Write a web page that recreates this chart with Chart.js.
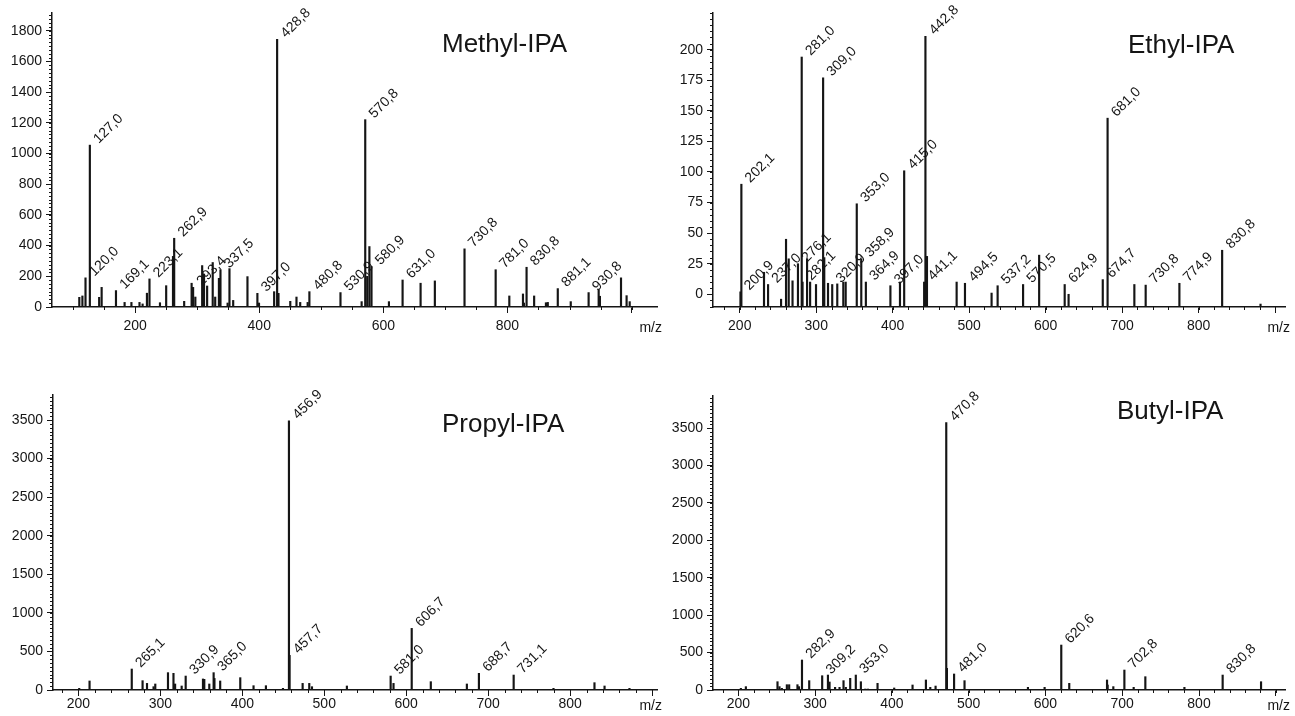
<!DOCTYPE html>
<html>
<head>
<meta charset="utf-8">
<script src="https://cdn.jsdelivr.net/npm/chart.js@4.4.0/dist/chart.umd.min.js"></script>
<style>
    body { margin: 0; background: #fff; width: 1295px; height: 716px; overflow: hidden; position: relative; }
    .panel { position: absolute; }
</style>
</head>
<body>
<div class="panel" style="left:0;top:0;width:668px;height:345px"><canvas id="methylChart"></canvas></div>
<div class="panel" style="left:662px;top:0;width:633px;height:345px"><canvas id="ethylChart"></canvas></div>
<div class="panel" style="left:0;top:360px;width:668px;height:356px"><canvas id="propylChart"></canvas></div>
<div class="panel" style="left:662px;top:360px;width:633px;height:356px"><canvas id="butylChart"></canvas></div>
<script>
// Methyl-IPA
const methylMz = [110, 115, 120.0, 127.0, 142, 146, 169.1, 183, 194, 207, 212, 219, 223.1, 240, 250, 261, 262.9, 279, 291, 293.4, 297, 308, 311, 316, 325, 329, 335, 337.5, 349, 352, 358, 381, 397.0, 399.6, 424, 428.8, 431, 450, 460, 466, 478, 480.8, 530.9, 565, 570.8, 574, 577.5, 580.9, 609, 631.0, 660, 683, 730.8, 781.0, 803, 825, 826.5, 830.8, 843, 862, 865, 881.1, 902, 930.8, 947, 949, 983, 992, 997];
const methylIntensity = [63, 72, 190, 1055, 63, 128, 107, 30, 30, 30, 20, 90, 183, 28, 139, 330, 448, 37, 155, 128, 65, 270, 215, 137, 290, 65, 187, 243, 26, 250, 43, 198, 89, 26, 100, 1745, 89, 37, 65, 30, 30, 100, 94, 35, 1221, 200, 394, 264, 35, 176, 155, 170, 379, 243, 72, 85, 26, 259, 72, 28, 30, 120, 35, 94, 113, 70, 190, 74, 35];
const methylLabeled = [120.0, 127.0, 169.1, 223.1, 262.9, 293.4, 337.5, 397.0, 428.8, 480.8, 530.9, 570.8, 580.9, 631.0, 730.8, 781.0, 830.8, 881.1, 930.8];
const methylYTicks = [0, 200, 400, 600, 800, 1000, 1200, 1400, 1600, 1800];
const methylXTicks = [200, 400, 600, 800, 1000];
const methylXLabels = [200, 400, 600, 800];

// Ethyl-IPA
const ethylMz = [200.9, 202.1, 231.7, 237.0, 254, 260.5, 264, 269, 276.1, 281.0, 282.1, 288, 292, 299.7, 309.0, 310.5, 315.4, 320.9, 327.5, 335.4, 338.5, 353.0, 358.9, 364.9, 397.0, 409.5, 415.0, 441.1, 442.8, 444.8, 483.6, 494.5, 529.3, 537.2, 570.5, 591.5, 624.9, 630, 674.7, 681.0, 716, 730.8, 774.9, 830.8, 881];
const ethylIntensity = [2, 90, 18, 8, -4, 45, 29, 11, 25, 194, 10, 29, 10, 8, 177, 30, 9, 8, 8.5, 10, 10, 74, 29, 10, 7, 10, 101, 10, 211, 31, 10, 9, 1, 7, 8, 32, 8, 0, 12, 144, 8, 7.5, 9, 36, -8];
const ethylLabeled = [200.9, 202.1, 237.0, 276.1, 281.0, 282.1, 309.0, 320.9, 353.0, 358.9, 364.9, 397.0, 415.0, 441.1, 442.8, 494.5, 537.2, 570.5, 624.9, 674.7, 681.0, 730.8, 774.9, 830.8];
const ethylYTicks = [0, 25, 50, 75, 100, 125, 150, 175, 200];
const ethylXTicks = [200, 300, 400, 500, 600, 700, 800, 900];
const ethylXLabels = [200, 300, 400, 500, 600, 700, 800];

// Propyl-IPA
const propylMz = [201, 213.6, 265.1, 278.3, 283.7, 291.7, 293.8, 309.3, 316, 318, 326, 330.9, 352, 353.6, 359.7, 365.0, 366, 373, 397.5, 413.7, 428.8, 449.6, 456.9, 457.7, 473.6, 481.7, 485, 527.6, 581.0, 584.5, 606.7, 630, 674, 688.7, 731.1, 779.7, 829.7, 842, 872.4];
const propylIntensity = [22, 117, 272, 121, 86, 43, 78, 225, 216, 78, 52, 181, 143, 138, 78, 225, 150, 117, 160, 56, 56, 22, 3490, 449, 86, 86, 43, 52, 181, 86, 799, 108, 78, 216, 194, 22, 95, 52, 22];
const propylLabeled = [265.1, 330.9, 365.0, 456.9, 457.7, 581.0, 606.7, 688.7, 731.1];
const propylYTicks = [0, 500, 1000, 1500, 2000, 2500, 3000, 3500];
const propylXTicks = [200, 300, 400, 500, 600, 700, 800, 900];
const propylXLabels = [200, 300, 400, 500, 600, 700, 800];

// Butyl-IPA
const butylMz = [203.3, 209.8, 251, 253.6, 256.7, 263.2, 266.2, 277, 279, 282.9, 292.3, 309.2, 316.7, 318.8, 326, 331.8, 337, 340, 345.7, 353.0, 359.6, 365.3, 368.8, 381.3, 403, 426.9, 444.3, 450, 456.9, 470.8, 471.7, 481.0, 494.6, 508.6, 513, 577.2, 598.9, 620.6, 631, 680.2, 681, 688.4, 702.8, 714.9, 730.1, 750.5, 781, 830.8, 880.8];
const butylIntensity = [22, 45, 111, 45, 22, 71, 71, 71, 45, 401, 125, 191, 200, 107, 36, 36, 125, 36, 156, 200, 111, 13, 13, 89, 27, 67, 134, 36, 53, 3574, 290, 214, 125, 9, 9, 36, 36, 601, 89, 134, 67, 45, 267, 36, 178, 9, 36, 200, 111];
const butylLabeled = [282.9, 309.2, 353.0, 470.8, 481.0, 620.6, 702.8, 830.8];
const butylYTicks = [0, 500, 1000, 1500, 2000, 2500, 3000, 3500];
const butylXTicks = [200, 300, 400, 500, 600, 700, 800, 900];
const butylXLabels = [200, 300, 400, 500, 600, 700, 800];

const FONT = '"Liberation Sans", Arial, Helvetica, sans-serif';
const INK = '#151515';
Chart.defaults.font.family = FONT;
Chart.defaults.color = INK;

// Panel-Definitionen (Layout getrennt von den Daten)
const panels = [
    {
        id: 'methylChart', title: 'Methyl-IPA',
        mz: methylMz, intensity: methylIntensity, labeled: methylLabeled,
        yTicks: methylYTicks, xTicks: methylXTicks, xLabels: methylXLabels,
        xRange: [66, 1041], yRange: [0, 1916], xMinor: 50, yMinor: 25,
        padding: { top: 13, right: 11, left: 0, bottom: 0 }, yAxisWidth: 52, xAxisHeight: 38, xLabelPad: 5,
        titleDx: 390, titleDy: 39, mzDy: 25
    },
    {
        id: 'ethylChart', title: 'Ethyl-IPA',
        mz: ethylMz, intensity: ethylIntensity, labeled: ethylLabeled,
        yTicks: ethylYTicks, xTicks: ethylXTicks, xLabels: ethylXLabels,
        xRange: [165, 913], yRange: [-10.4, 230], xMinor: 20, yMinor: 5,
        padding: { top: 13, right: 10, left: 0, bottom: 0 }, yAxisWidth: 51, xAxisHeight: 38, xLabelPad: 5,
        titleDx: 415, titleDy: 40, mzDy: 25
    },
    {
        id: 'propylChart', title: 'Propyl-IPA',
        mz: propylMz, intensity: propylIntensity, labeled: propylLabeled,
        yTicks: propylYTicks, xTicks: propylXTicks, xLabels: propylXLabels,
        xRange: [169, 906], yRange: [0, 3825], xMinor: 20, yMinor: 50,
        padding: { top: 35, right: 11, left: 0, bottom: 0 }, yAxisWidth: 53, xAxisHeight: 26, xLabelPad: 0,
        titleDx: 389, titleDy: 37, mzDy: 20
    },
    {
        id: 'butylChart', title: 'Butyl-IPA',
        mz: butylMz, intensity: butylIntensity, labeled: butylLabeled,
        yTicks: butylYTicks, xTicks: butylXTicks, xLabels: butylXLabels,
        xRange: [167, 912], yRange: [0, 3930], xMinor: 20, yMinor: 50,
        padding: { top: 36, right: 10, left: 0, bottom: 0 }, yAxisWidth: 51, xAxisHeight: 26, xLabelPad: 0,
        titleDx: 404, titleDy: 23, mzDy: 20
    }
];

// Nebenticks, Peak-Beschriftungen, Titel und m/z
function makeDecor(p) {
    return {
        id: 'spectrumDecor',
        afterDatasetsDraw(chart) {
            const { ctx, chartArea } = chart;
            const x = chart.scales.x;
            const y = chart.scales.y;
            ctx.save();
            ctx.strokeStyle = INK;
            ctx.lineWidth = 1;
            ctx.beginPath();
            for (let v = Math.ceil(y.min / p.yMinor) * p.yMinor; v <= y.max; v += p.yMinor) {
                const py = Math.round(y.getPixelForValue(v)) + 0.5;
                ctx.moveTo(chartArea.left - 3, py);
                ctx.lineTo(chartArea.left, py);
            }
            for (let v = Math.ceil(x.min / p.xMinor) * p.xMinor; v <= x.max; v += p.xMinor) {
                const px = Math.round(x.getPixelForValue(v)) + 0.5;
                ctx.moveTo(px, chartArea.bottom);
                ctx.lineTo(px, chartArea.bottom + 3);
            }
            ctx.stroke();

            ctx.fillStyle = INK;
            ctx.font = '14px ' + FONT;
            ctx.textAlign = 'left';
            ctx.textBaseline = 'alphabetic';
            p.labeled.forEach(m => {
                const i = p.mz.indexOf(m);
                const px = x.getPixelForValue(m);
                const py = y.getPixelForValue(p.intensity[i]);
                ctx.save();
                ctx.translate(px + 9, py - 1);
                ctx.rotate(-Math.PI / 4);
                ctx.fillText(m.toFixed(1).replace('.', ','), 0, 0);
                ctx.restore();
            });

            ctx.font = '26px ' + FONT;
            ctx.fillText(p.title, chartArea.left + p.titleDx, chartArea.top + p.titleDy);

            ctx.font = '14px ' + FONT;
            ctx.textAlign = 'right';
            ctx.fillText('m/z', chartArea.right + 5, chartArea.bottom + p.mzDy);
            ctx.restore();
        }
    };
}

function buildChart(p) {
    return new Chart(document.getElementById(p.id), {
        type: 'bar',
        data: {
            datasets: [{
                data: p.mz.map((m, i) => ({ x: m, y: p.intensity[i] })),
                backgroundColor: INK,
                barThickness: 1.5,
                base: p.yRange[0]
            }]
        },
        options: {
            responsive: true,
            maintainAspectRatio: false,
            animation: false,
            layout: { padding: p.padding },
            plugins: {
                legend: { display: false },
                tooltip: { enabled: false }
            },
            scales: {
                x: {
                    type: 'linear',
                    offset: false,
                    min: p.xRange[0],
                    max: p.xRange[1],
                    afterBuildTicks: s => { s.ticks = p.xTicks.map(v => ({ value: v })); },
                    afterFit: s => { s.height = p.xAxisHeight; s.paddingLeft = 0; s.paddingRight = 0; },
                    grid: { offset: false, drawOnChartArea: false, drawTicks: true, tickLength: 6, tickColor: INK, tickWidth: 1 },
                    border: { color: INK, width: 1.5 },
                    ticks: {
                        autoSkip: false,
                        maxRotation: 0,
                        padding: p.xLabelPad,
                        font: { size: 14 },
                        callback: v => p.xLabels.includes(v) ? String(v) : ''
                    }
                },
                y: {
                    min: p.yRange[0],
                    max: p.yRange[1],
                    afterBuildTicks: s => { s.ticks = p.yTicks.map(v => ({ value: v })); },
                    afterFit: s => { s.width = p.yAxisWidth; s.paddingTop = 0; s.paddingBottom = 0; },
                    grid: { drawOnChartArea: false, drawTicks: true, tickLength: 6, tickColor: INK, tickWidth: 1 },
                    border: { color: INK, width: 1.5 },
                    ticks: {
                        padding: 4,
                        font: { size: 14 },
                        callback: v => String(v)
                    }
                }
            }
        },
        plugins: [makeDecor(p)]
    });
}

panels.forEach(buildChart);
</script>
</body>
</html>
